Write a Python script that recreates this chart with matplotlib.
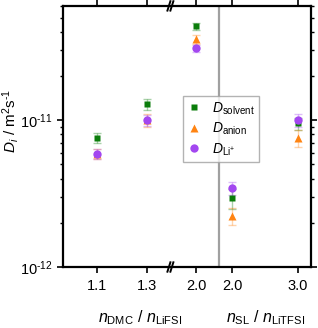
import matplotlib
matplotlib.use("Agg")
import matplotlib.pyplot as plt
import numpy as np
from matplotlib.ticker import LogLocator, NullFormatter, FixedLocator

plt.rcParams["font.family"] = ["Liberation Sans", "DejaVu Sans"]
plt.rcParams["mathtext.fontset"] = "custom"
plt.rcParams["mathtext.rm"] = "Liberation Sans"
plt.rcParams["mathtext.it"] = "Liberation Sans:italic"

# data: DMC/LiFSI ratios and SL/LiTFSI ratios
dmc_labels = ["1.1", "1.3", "2.0"]
sl_labels = ["2.0", "3.0"]
tick_labels = dmc_labels + sl_labels

D_solvent = [7.55e-12, 1.285e-11, 4.35e-11, 2.94e-12, 9.5e-12]
D_anion = [5.9e-12, 1.0e-11, 3.55e-11, 2.22e-12, 7.55e-12]
D_li = [5.9e-12, 1.0e-11, 3.09e-11, 3.45e-12, 1.0e-11]

err_solvent = [0.6e-12, 1.1e-12, 2.5e-12, 0.45e-12, 0.9e-12]
err_anion = [0.5e-12, 1.0e-12, 2.6e-12, 0.3e-12, 1.0e-12]
err_li = [0.45e-12, 0.9e-12, 1.8e-12, 0.35e-12, 1.0e-12]

xpos = [1, 2, 3, 3.73, 5.06]
sep_x = 3.46
break_x = 2.51

fig = plt.figure(figsize=(3.18, 3.28), dpi=100)
ax = fig.add_axes([0.198, 0.186, 0.78, 0.796])

series = [
    (D_solvent, err_solvent, "s", "#0b7d0b", 4.8, r"$D_{\mathrm{solvent}}$"),
    (D_anion, err_anion, "^", "#ff8412", 5.6, r"$D_{\mathrm{anion}}$"),
    (D_li, err_li, "o", "#a347f0", 6.0, r"$D_{\mathrm{Li^{+}}}$"),
]
handles = []
for vals, errs, mk, col, ms, lab in series:
    ax.errorbar(xpos, vals, yerr=errs, fmt="none", ecolor=col, alpha=0.35,
                elinewidth=1.0, capsize=3, capthick=1.0, zorder=2)
    h, = ax.plot(xpos, vals, ls="none", marker=mk, color=col, ms=ms,
                 mec="none", label=lab, zorder=3)
    handles.append(h)

ax.axvline(sep_x, color="#a0a0a0", lw=1.6, zorder=1)

ax.set_yscale("log")
ax.set_ylim(1e-12, 6e-11)
ax.set_xlim(0.31, 5.32)
ax.xaxis.set_major_locator(FixedLocator(xpos))
ax.set_xticklabels(tick_labels)
ax.yaxis.set_minor_locator(LogLocator(base=10, subs=np.arange(2, 10), numticks=10))
ax.yaxis.set_minor_formatter(NullFormatter())
ax.set_yticks([1e-12, 1e-11])
ax.set_yticklabels([r"10$^{\text{-}12}$", r"10$^{\text{-}11}$"])

ax.tick_params(axis="both", which="major", direction="out", length=4, width=1.2,
               labelsize=10.5, top=True, right=True, labeltop=False, labelright=False)
ax.tick_params(axis="y", which="minor", direction="out", length=2.5, width=1.0,
               left=True, right=True)
ax.tick_params(axis="x", which="major", pad=5)
for sp in ax.spines.values():
    sp.set_linewidth(1.6)

# axis break marks
for yb in (0.0, 1.0):
    for dx in (-0.012, 0.0):
        xa = (break_x - 0.31) / (5.32 - 0.31) + dx
        ax.plot([xa - 0.006, xa + 0.006], [yb - 0.018, yb + 0.018],
                transform=ax.transAxes, color="black", lw=1.4, clip_on=False, zorder=5)

ax.set_ylabel(r"$D_i$ / m$^2$s$^{\text{-}1}$", fontsize=11)
ax.yaxis.set_label_coords(-0.168, 0.56)
fig.text(0.44, 0.004, r"$n_{\mathrm{DMC}}$ / $n_{\mathrm{LiFSI}}$", ha="center",
         va="bottom", fontsize=11.5)
fig.text(0.835, 0.004, r"$n_{\mathrm{SL}}$ / $n_{\mathrm{LiTFSI}}$", ha="center",
         va="bottom", fontsize=11.5)

leg = ax.legend(handles=handles, loc="upper left", bbox_to_anchor=(0.484, 0.655),
                fontsize=10, frameon=True, fancybox=False, edgecolor="#a0a0a0",
                handlelength=1.0, handletextpad=0.8, borderpad=0.3, labelspacing=0.3,
                borderaxespad=0)
leg.get_frame().set_linewidth(1.0)

fig.savefig("out.png", dpi=100)
